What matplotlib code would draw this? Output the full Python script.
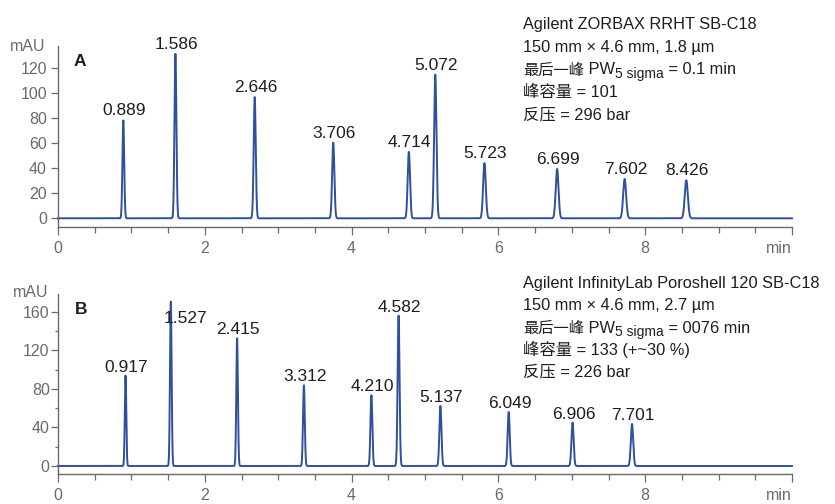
import numpy as np
import matplotlib as mpl
import matplotlib.pyplot as plt
from matplotlib.ticker import MultipleLocator, FixedLocator

# ------------------------------------------------------------------
# data
# ------------------------------------------------------------------
# panel A : ZORBAX RRHT
a_times = [0.89, 1.60, 2.68, 3.75, 4.78, 5.14, 5.81, 6.80, 7.72, 8.56]
a_heights = [78, 131, 96.6, 60.3, 53, 114.5, 44, 39.3, 31.3, 30.3]
a_sigmas = [0.012, 0.013, 0.014, 0.015, 0.016, 0.016, 0.018, 0.019, 0.020, 0.021]
a_labels = ["0.889", "1.586", "2.646", "3.706", "4.714",
            "5.072", "5.723", "6.699", "7.602", "8.426"]

# panel B : InfinityLab Poroshell
b_times = [0.92, 1.537, 2.44, 3.35, 4.27, 4.64, 5.21, 6.14, 7.01, 7.82]
b_heights = [93.7, 170.4, 132.4, 83.7, 73.3, 155.9, 62.2, 56, 45, 43.6]
b_sigmas = [0.010, 0.011, 0.011, 0.012, 0.013, 0.013, 0.014, 0.014, 0.015, 0.016]
b_labels = ["0.917", "1.527", "2.415", "3.312", "4.210",
            "4.582", "5.137", "6.049", "6.906", "7.701"]

a_info = ["Agilent ZORBAX RRHT SB-C18", "150 mm × 4.6 mm, 1.8 µm",
          "0.1 min", "峰容量 = 101", "反压 = 296 bar"]
b_info = ["Agilent InfinityLab Poroshell 120 SB-C18", "150 mm × 4.6 mm, 2.7 µm",
          "0076 min", "峰容量 = 133 (+~30 %)", "反压 = 226 bar"]

# ------------------------------------------------------------------
# style
# ------------------------------------------------------------------
W, H = 835, 504
LAT = ["Liberation Sans", "Noto Sans CJK SC", "DejaVu Sans"]
CJK = ["Noto Sans CJK SC", "DejaVu Sans"]
plt.rcParams["font.family"] = LAT
grey = "#6a6a6a"
blue = "#2f4f9f"
ink = "#1e1e1e"

fig = plt.figure(figsize=(W / 100, H / 100), dpi=100)
r = fig.canvas.get_renderer()


def fx(px):
    return px / W


def fy(py):
    return 1 - py / H


def runs(x, y, parts):
    # draw text pieces one after another on the same baseline
    for s, size, fam, dy in parts:
        t = fig.text(fx(x), fy(y - dy), s, fontsize=size, family=fam,
                     va="baseline", ha="left", color=ink)
        x = t.get_window_extent(r).x1


t = np.linspace(0, 10, 6001)


def panel(rect, ylim, yticks, yminor, times, heights, sigmas, labels,
          lab_dy, special, ypad):
    ax = fig.add_axes(rect)
    sig = np.zeros_like(t)
    for t0, h, s in zip(times, heights, sigmas):
        sig += h * np.exp(-0.5 * ((t - t0) / s) ** 2)
    ax.plot(t, sig, color=blue, lw=1.4, clip_on=False)

    ax.set_xlim(0, 10)
    ax.set_ylim(*ylim)
    for s in ["top", "right"]:
        ax.spines[s].set_visible(False)
    for s in ["left", "bottom"]:
        ax.spines[s].set_color(grey)
        ax.spines[s].set_linewidth(1.0)

    ax.xaxis.set_major_locator(FixedLocator([0, 2, 4, 6, 8, 10]))
    ax.xaxis.set_minor_locator(MultipleLocator(0.5))
    ax.set_xticklabels(["0", "2", "4", "6", "8", "min"])
    ax.get_xticklabels()[-1].set_horizontalalignment("right")
    ax.set_yticks(yticks)
    if yminor:
        ax.yaxis.set_minor_locator(FixedLocator(yminor))
    ax.tick_params(axis="x", which="major", length=5.8, width=0.9, color=grey,
                   labelcolor=grey, labelsize=11.5, pad=4.5)
    ax.tick_params(axis="x", which="minor", length=4.3, width=0.9, color=grey)
    ax.tick_params(axis="y", which="major", length=5, width=0.9, color=grey,
                   labelcolor=grey, labelsize=11.5, pad=ypad)
    ax.tick_params(axis="y", which="minor", length=2.5, width=0.9, color=grey)

    for t0, h, lab in zip(times, heights, labels):
        off = special.get(lab, (1, lab_dy))
        ax.annotate(lab, xy=(t0, h), xytext=off, textcoords="offset pixels",
                    ha="center", va="baseline", fontsize=12.5, color=ink)
    return ax


axA = panel([fx(58), fy(226.7), fx(734), (226.7 - 46) / H], (-6.7, 137.3),
            np.arange(0, 121, 20), None, a_times, a_heights, a_sigmas,
            a_labels, 5, {}, 3)
axB = panel([fx(58), fy(474), fx(734), (474 - 294.3) / H], (-8.3, 178),
            np.arange(0, 161, 40), [20, 60, 100, 140], b_times, b_heights,
            b_sigmas, b_labels, 4, {"1.527": (15, -21)}, 1)

# axis unit and panel letters
fig.text(fx(45.7), fy(50.7), "mAU", ha="right", va="baseline", fontsize=11.5, color=grey)
fig.text(fx(48.3), fy(297.3), "mAU", ha="right", va="baseline", fontsize=11.5, color=grey)
fig.text(fx(74), fy(66), "A", fontsize=12.5, fontweight="bold", va="baseline", color=ink)
fig.text(fx(75), fy(314), "B", fontsize=12.5, fontweight="bold", va="baseline", color=ink)

# column description blocks
for info, base in [(a_info, [29.3, 52.3, 74.5, 97, 119.3]),
                   (b_info, [287.7, 310, 332.7, 354.5, 376.7])]:
    runs(523, base[0], [(info[0], 11.8, LAT, 0)])
    runs(523, base[1], [(info[1], 11.8, LAT, 0)])
    runs(523, base[2], [("最后一峰", 11, CJK, 0), (" PW", 11.8, LAT, 0),
                        ("5 sigma", 10, LAT, -3.5), (" = " + info[2], 11.8, LAT, 0)])
    runs(523, base[3], [(info[3], 11.8, LAT, 0)])
    runs(523, base[4], [(info[4], 11.8, LAT, 0)])

fig.savefig("out.png", dpi=100)
